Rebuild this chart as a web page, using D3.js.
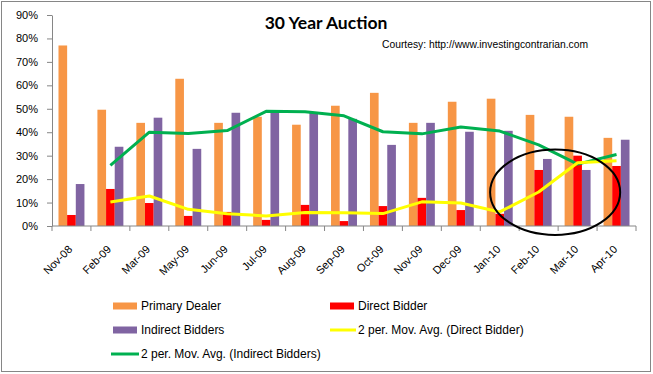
<!DOCTYPE html>
<html>
<head>
<meta charset="utf-8">
<script src="https://cdn.jsdelivr.net/npm/d3@7"></script>
<style>
  html, body { margin: 0; padding: 0; background: #fff; }
  svg { display: block; }
</style>
</head>
<body>
<div id="chart"></div>
<script>
const categories = ['Nov-08', 'Feb-09', 'Mar-09', 'May-09', 'Jun-09', 'Jul-09', 'Aug-09', 'Sep-09',
  'Oct-09', 'Nov-09', 'Dec-09', 'Jan-10', 'Feb-10', 'Mar-10', 'Apr-10'];
const primaryDealer = [77, 49.6, 44, 62.8, 44, 46.6, 43.2, 51.3, 56.8, 44, 53, 54.3, 47.4, 46.6, 37.6];
const directBidder = [4.7, 15.8, 9.8, 4.3, 6, 2.6, 9, 2.1, 8.5, 12, 6.8, 5.2, 23.9, 30, 25.6];
const indirectBidders = [17.9, 33.8, 46.2, 32.9, 48.3, 49.3, 48.3, 45.7, 34.6, 44, 40.2, 40.6, 28.6, 23.9, 36.8];
// 2 period moving averages, read off the trendlines (no value for the first month)
const directAvg = [null, 10.2, 12.8, 7.1, 5.2, 4.3, 5.8, 5.6, 5.3, 10.3, 9.8, 6.0, 14.5, 27.0, 27.8];
const indirectAvg = [null, 25.9, 40.0, 39.5, 40.7, 48.9, 48.7, 47.0, 40.2, 39.3, 42.2, 40.5, 34.6, 26.4, 30.5];
const yTicks = [0, 10, 20, 30, 40, 50, 60, 70, 80, 90];

const width = 653;
const height = 374;
const plot = { left: 52, right: 636, top: 15, bottom: 226 };
const axisColor = '#868686';
const font = "'Liberation Sans', Arial, sans-serif";

const svg = d3.select('#chart')
  .append('svg')
  .attr('width', width)
  .attr('height', height);

svg.append('rect')
  .attr('x', 1.5)
  .attr('y', 1.5)
  .attr('width', 649)
  .attr('height', 370)
  .attr('fill', '#fff')
  .attr('stroke', axisColor);

const x = d3.scaleBand()
  .domain(categories)
  .range([plot.left, plot.right]);

const barSeries = [
  { name: 'Primary Dealer', values: primaryDealer, color: '#F79646' },
  { name: 'Direct Bidder', values: directBidder, color: '#FF0000' },
  { name: 'Indirect Bidders', values: indirectBidders, color: '#8064A2' }
];

// gap width 150% of a bar
const barW = x.bandwidth() / 4.5;
const x1 = d3.scaleBand()
  .domain(barSeries.map(s => s.name))
  .range([barW * 0.75, barW * 3.75]);

const y = d3.scaleLinear()
  .domain([0, 90])
  .range([plot.bottom, plot.top]);

// bars
barSeries.forEach(s => {
  svg.append('g')
    .selectAll('rect')
    .data(categories.map((c, i) => ({ c, v: s.values[i] })))
    .join('rect')
    .attr('x', d => x(d.c) + x1(s.name))
    .attr('y', d => y(d.v))
    .attr('width', x1.bandwidth())
    .attr('height', d => y(0) - y(d.v))
    .attr('fill', s.color);
});

// y axis
const yAxis = svg.append('g')
  .attr('transform', `translate(${plot.left},0)`)
  .call(d3.axisLeft(y).tickValues(yTicks).tickFormat(d => d + '%').tickSize(5).tickSizeOuter(0));
yAxis.select('.domain').attr('stroke', axisColor);
yAxis.selectAll('.tick line').attr('stroke', axisColor);
yAxis.selectAll('.tick text')
  .attr('x', -14)
  .attr('fill', '#000')
  .style('font-family', font)
  .style('font-size', '11px');

// x axis: ticks on category boundaries
const xAxis = svg.append('g')
  .attr('transform', `translate(0,${plot.bottom})`);
xAxis.append('line')
  .attr('x1', plot.left)
  .attr('x2', plot.right)
  .attr('stroke', axisColor);
xAxis.selectAll('line.tick')
  .data(categories.concat(['end']))
  .join('line')
  .attr('class', 'tick')
  .attr('x1', (d, i) => plot.left + i * x.bandwidth())
  .attr('x2', (d, i) => plot.left + i * x.bandwidth())
  .attr('y1', 0)
  .attr('y2', 5)
  .attr('stroke', axisColor);
xAxis.selectAll('text')
  .data(categories)
  .join('text')
  .attr('transform', d => `translate(${x(d) + x.bandwidth() / 2 + 1.5},${24}) rotate(-45)`)
  .attr('text-anchor', 'end')
  .attr('fill', '#000')
  .style('font-family', font)
  .style('font-size', '11px')
  .text(d => d);

// moving average lines
const line = d3.line()
  .defined(d => d.v !== null)
  .x(d => x(d.c) + x.bandwidth() / 2)
  .y(d => y(d.v));

svg.append('path')
  .datum(categories.map((c, i) => ({ c, v: indirectAvg[i] })))
  .attr('fill', 'none')
  .attr('stroke', '#00B050')
  .attr('stroke-width', 3)
  .attr('stroke-linejoin', 'round')
  .attr('d', line);

svg.append('path')
  .datum(categories.map((c, i) => ({ c, v: directAvg[i] })))
  .attr('fill', 'none')
  .attr('stroke', '#FFFF00')
  .attr('stroke-width', 3)
  .attr('stroke-linejoin', 'round')
  .attr('d', line);

// highlight ellipse round Feb-10 .. Apr-10
svg.append('ellipse')
  .attr('cx', x('Mar-10') - 3)
  .attr('cy', y(14.4))
  .attr('rx', x.bandwidth() * 1.67)
  .attr('ry', y(0) - y(18.2))
  .attr('fill', 'none')
  .attr('stroke', '#000')
  .attr('stroke-width', 2);

// titles
svg.append('text')
  .attr('x', 326)
  .attr('y', 29)
  .attr('text-anchor', 'middle')
  .style('font-family', "Lato, 'Open Sans', sans-serif")
  .style('font-weight', 'bold')
  .style('font-size', '17.5px')
  .text('30 Year Auction');

svg.append('text')
  .attr('x', 382)
  .attr('y', 48)
  .style('font-family', font)
  .style('font-size', '10.3px')
  .text('Courtesy: http://www.investingcontrarian.com');

// legend
const legendItems = [
  { name: 'Primary Dealer', color: '#F79646', type: 'rect', col: 0, row: 0 },
  { name: 'Direct Bidder', color: '#FF0000', type: 'rect', col: 1, row: 0 },
  { name: 'Indirect Bidders', color: '#8064A2', type: 'rect', col: 0, row: 1 },
  { name: '2 per. Mov. Avg. (Direct Bidder)', color: '#FFFF00', type: 'line', col: 1, row: 1 },
  { name: '2 per. Mov. Avg. (Indirect Bidders)', color: '#00B050', type: 'line', col: 0, row: 2 }
];
const legendX = [113, 330];
const legendY = [306, 330, 354];

const legend = svg.append('g')
  .selectAll('g')
  .data(legendItems)
  .join('g')
  .attr('transform', d => `translate(${legendX[d.col]},${legendY[d.row]})`);

legend.filter(d => d.type === 'rect')
  .append('rect')
  .attr('x', 0)
  .attr('y', -3.5)
  .attr('width', 24)
  .attr('height', 7)
  .attr('fill', d => d.color);

legend.filter(d => d.type === 'line')
  .append('line')
  .attr('x1', d => d.col === 0 ? -2 : 0)
  .attr('x2', 26)
  .attr('stroke', d => d.color)
  .attr('stroke-width', 3);

legend.append('text')
  .attr('x', 28)
  .attr('y', 4)
  .style('font-family', font)
  .style('font-size', '12px')
  .text(d => d.name);
</script>
</body>
</html>
